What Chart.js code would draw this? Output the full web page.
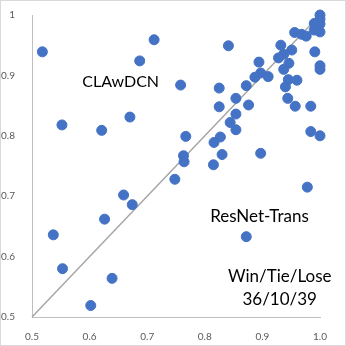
<!DOCTYPE html>
<html>
<head>
<meta charset="utf-8">
<script src="https://cdn.jsdelivr.net/npm/chart.js@4"></script>
<style>
    html, body { margin: 0; padding: 0; background: #fff; }
    #wrap { width: 346px; height: 346px; }
</style>
</head>
<body>
<div id="wrap"><canvas id="scatter-chart" width="346" height="346"></canvas></div>
<script>
// x = ResNet-Trans accuracy, y = CLAwDCN accuracy
const xValues = [
    0.518, 0.712, 0.687, 0.552, 0.621, 0.670, 0.659, 0.674, 0.626, 0.537,
    0.553, 0.639, 0.602, 0.748, 0.978, 0.872, 1.000, 1.000, 0.990, 1.000,
    0.996, 0.990, 1.000, 0.956, 0.968, 0.976, 0.841, 0.932, 0.951, 0.991,
    0.937, 0.928, 0.894, 0.946, 0.937, 1.000, 1.000, 0.897, 0.887, 0.910,
    0.758, 0.945, 0.960, 0.940, 0.872, 0.825, 0.854, 0.944, 0.825, 0.876,
    0.957, 0.984, 0.854, 0.844, 0.854, 0.767, 0.827, 0.816, 0.984, 1.000,
    0.763, 0.764, 0.830, 0.897, 0.815
];
const yValues = [
    0.939, 0.959, 0.924, 0.818, 0.809, 0.831, 0.702, 0.686, 0.662, 0.636,
    0.580, 0.564, 0.519, 0.728, 0.715, 0.633, 1.000, 0.993, 0.986, 0.985,
    0.976, 0.975, 0.972, 0.971, 0.968, 0.965, 0.949, 0.950, 0.942, 0.939,
    0.935, 0.929, 0.922, 0.920, 0.910, 0.916, 0.910, 0.904, 0.897, 0.898,
    0.884, 0.893, 0.892, 0.881, 0.883, 0.879, 0.862, 0.862, 0.848, 0.851,
    0.849, 0.849, 0.836, 0.822, 0.810, 0.799, 0.798, 0.789, 0.807, 0.800,
    0.767, 0.757, 0.769, 0.771, 0.752
];
const xTickLabels = ['0.5', '0.6', '0.7', '0.8', '0.9', '1.0'];
const yTickLabels = ['0.5', '0.6', '0.7', '0.8', '0.9', '1'];
const diagonal = [0.5, 1];

const labelFont = 'Lato, "Open Sans", sans-serif';

// texts drawn over the plot, border around the whole picture
const notesPlugin = {
    id: 'notes',
    afterDraw(chart) {
        const c = chart.ctx;
        const x = chart.scales.x;
        const y = chart.scales.y;
        c.save();
        c.strokeStyle = '#d9d9d9';
        c.lineWidth = 1;
        c.strokeRect(0.5, 0.5, chart.width - 1, chart.height - 1);
        c.fillStyle = '#000';
        c.textAlign = 'center';
        c.textBaseline = 'middle';
        c.font = '16px ' + labelFont;
        c.fillText('CLAwDCN', x.getPixelForValue(0.654), y.getPixelForValue(0.890));
        c.font = '17px ' + labelFont;
        c.fillText('ResNet-Trans', x.getPixelForValue(0.895), y.getPixelForValue(0.666));
        c.fillText('Win/Tie/Lose', x.getPixelForValue(0.930), y.getPixelForValue(0.567));
        c.fillText('36/10/39', x.getPixelForValue(0.930), y.getPixelForValue(0.529));
        c.restore();
    }
};

const scatterCtx = document.getElementById('scatter-chart');

new Chart(scatterCtx, {
    type: 'scatter',
    data: {
        datasets: [{
            label: 'datasets',
            data: xValues.map((v, i) => ({x: v, y: yValues[i]})),
            backgroundColor: '#4472c4',
            borderColor: '#4472c4',
            pointRadius: 5,
            pointHoverRadius: 5,
            order: 1,
        }, {
            type: 'line',
            label: 'y = x',
            data: diagonal.map(v => ({x: v, y: v})),
            borderColor: '#a6a6a6',
            borderWidth: 1.5,
            pointRadius: 0,
            fill: false,
            order: 2,
        }]
    },
    options: {
        events: [],
        animation: false,
        responsive: false,
        clip: false,
        layout: {
            padding: {top: 14, right: 26, left: 0, bottom: 0}
        },
        scales: {
            x: {
                type: 'linear',
                min: 0.5,
                max: 1,
                grid: {display: false},
                border: {display: true, color: '#bfbfbf', width: 1},
                ticks: {
                    stepSize: 0.1,
                    padding: 6,
                    color: '#595959',
                    font: {family: labelFont, size: 10},
                    callback: (value, index) => xTickLabels[index],
                },
                afterFit(scale) { scale.height = 29; },
            },
            y: {
                type: 'linear',
                min: 0.5,
                max: 1,
                grid: {display: false},
                border: {display: true, color: '#bfbfbf', width: 1},
                ticks: {
                    stepSize: 0.1,
                    padding: 9,
                    color: '#595959',
                    font: {family: labelFont, size: 10},
                    callback: (value, index) => yTickLabels[index],
                },
                afterFit(scale) { scale.width = 32; },
            }
        },
        plugins: {
            legend: {display: false},
            tooltip: {enabled: false},
        }
    },
    plugins: [notesPlugin],
});
</script>
</body>
</html>
